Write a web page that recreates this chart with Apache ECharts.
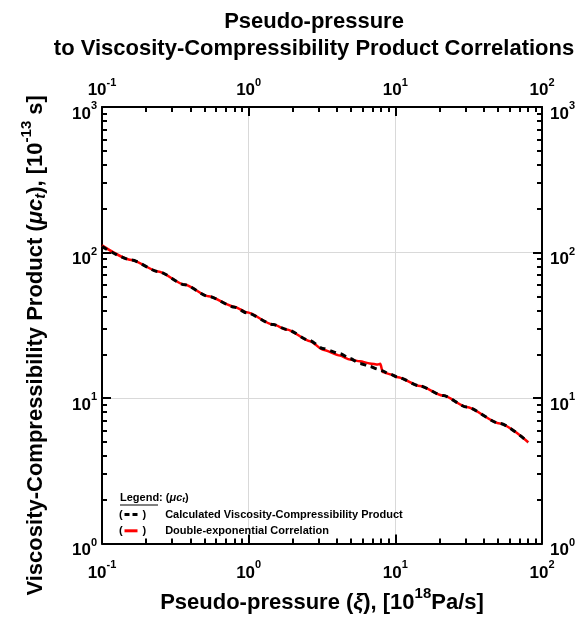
<!DOCTYPE html>
<html><head><meta charset="utf-8">
<script src="https://cdn.jsdelivr.net/npm/echarts@6/dist/echarts.min.js"></script>
<style>html,body{margin:0;padding:0;background:#fff}#c{width:582px;height:619px}</style>
</head><body><div id="c"></div>
<script>
// ---- data ----
const xCalc = [0.1, 0.159, 0.242, 0.368, 0.53, 0.806, 0.969, 1.47, 1.82, 2.62, 3.21, 4.19, 4.9, 5.74, 6.71, 7.61, 8.1, 9.18, 10.4, 14.7, 21.2, 30.6, 51.6, 80.5];
const yCalc = [110, 88.7, 74.0, 60.0, 50.0, 42.1, 38.5, 32.0, 29.6, 24.8, 21.9, 20.2, 18.7, 17.3, 16.5, 15.8, 15.4, 14.6, 13.9, 12.1, 10.4, 8.69, 6.69, 4.97];
const xCorr = [0.1, 0.159, 0.242, 0.368, 0.53, 0.806, 0.969, 1.47, 1.82, 2.62, 3.21, 4.19, 4.9, 5.74, 6.71, 7.61, 7.9, 8.2, 9.18, 10.4, 14.7, 21.2, 30.6, 51.6, 80.5];
const yCorr = [112, 89.0, 74.0, 60.0, 50.0, 42.3, 38.8, 32.0, 29.6, 24.6, 21.5, 19.6, 18.4, 17.9, 17.3, 17.0, 17.2, 15.1, 14.6, 13.9, 12.1, 10.4, 8.69, 6.69, 4.97];
const xMajor = [0.1, 1, 10, 100];
const yMajor = [1, 10, 100, 1000];
const minorMult = [2, 3, 4, 5, 6, 7, 8, 9];
const seriesNames = ['Calculated Viscosity-Compressibility Product', 'Double-exponential Correlation'];

function minors(major) {
  const out = [];
  for (let i = 0; i < major.length - 1; i++) minorMult.forEach(m => out.push(+(major[i] * m).toPrecision(6)));
  return out;
}
const xMinor = minors(xMajor);
const yMinor = minors(yMajor);

const F = 'Arial, "Liberation Sans", sans-serif';
const supFmt = v => '{b|10}{s|' + Math.round(Math.log10(v)) + '}';
const labRich = {
  b: {fontFamily: F, fontSize: 17, fontWeight: 'bold', color: '#000'},
  s: {fontFamily: F, fontSize: 11, fontWeight: 'bold', color: '#000', padding: [0, 0, 16, 0]}
};
const nameRich = {
  n: {fontFamily: F, fontSize: 22, fontWeight: 'bold', color: '#000'},
  i: {fontFamily: F, fontSize: 22, fontWeight: 'bold', fontStyle: 'italic', color: '#000'},
  sub: {fontFamily: F, fontSize: 15, fontWeight: 'bold', fontStyle: 'italic', color: '#000', padding: [10, 0, 0, 0]},
  sup: {fontFamily: F, fontSize: 15, fontWeight: 'bold', color: '#000', padding: [0, 0, 18, 0]}
};

function majorAxis(pos, range, ticks, extra) {
  return Object.assign({
    type: 'log', logBase: 10, min: range[0], max: range[1], position: pos,
    axisLine: {show: true, onZero: false, lineStyle: {color: '#000', width: 2}},
    axisTick: {show: true, inside: true, length: 9, customValues: ticks, lineStyle: {color: '#000', width: 2}},
    axisLabel: {show: true, customValues: ticks, formatter: supFmt, rich: labRich},
    splitLine: {show: false},
    minorTick: {show: false}
  }, extra);
}
function minorAxis(pos, range, ticks) {
  return {
    type: 'log', logBase: 10, min: range[0], max: range[1], position: pos,
    axisLine: {show: false},
    axisTick: {show: true, inside: true, length: 5, customValues: ticks, lineStyle: {color: '#000', width: 2}},
    axisLabel: {show: false},
    splitLine: {show: false}
  };
}

const chart = echarts.init(document.getElementById('c'), null, {renderer: 'canvas'});
chart.setOption({
  backgroundColor: '#fff',
  animation: false,
  title: {
    text: 'Pseudo-pressure\nto Viscosity-Compressibility Product Correlations',
    left: 314, top: 8, padding: 0, textAlign: 'center',
    textStyle: {fontFamily: F, fontSize: 22, fontWeight: 'bold', color: '#000', lineHeight: 27}
  },
  grid: {left: 102, right: 40, top: 107, bottom: 71, containLabel: false},
  xAxis: [
    majorAxis('bottom', [0.1, 100], xMajor, {
      axisLabel: {show: true, customValues: xMajor, formatter: supFmt, rich: labRich, margin: 16},
      splitLine: {show: true, lineStyle: {color: '#d9d9d9', width: 1}},
      name: '{n|Pseudo-pressure (}{i|ξ}{n|), [10}{sup|18}{n|Pa/s]}',
      nameLocation: 'middle', nameGap: 38,
      nameTextStyle: {rich: nameRich}
    }),
    minorAxis('bottom', [0.1, 100], xMinor),
    majorAxis('top', [0.1, 100], xMajor, {
      axisLabel: {show: true, customValues: xMajor, formatter: supFmt, rich: labRich, margin: 3}
    }),
    minorAxis('top', [0.1, 100], xMinor)
  ],
  yAxis: [
    majorAxis('left', [1, 1000], yMajor, {
      axisLabel: {show: true, customValues: yMajor, formatter: supFmt, rich: labRich, margin: 5, padding: [14, 0, 0, 0]},
      splitLine: {show: true, lineStyle: {color: '#d9d9d9', width: 1}},
      name: '{n|Viscosity-Compressibility Product (}{i|μc}{sub|t}{n|), [10}{sup|-13}{n| s]}',
      nameLocation: 'middle', nameGap: 50,
      nameTextStyle: {rich: nameRich, padding: [0, 40, 0, 0]}
    }),
    minorAxis('left', [1, 1000], yMinor),
    majorAxis('right', [1, 1000], yMajor, {
      axisLabel: {show: true, customValues: yMajor, formatter: supFmt, rich: labRich, margin: 8, padding: [14, 0, 0, 0]}
    }),
    minorAxis('right', [1, 1000], yMinor)
  ],
  legend: {
    orient: 'vertical', left: 123, top: 509, padding: 0,
    itemWidth: 13, itemHeight: 14, itemGap: 5,
    itemStyle: {color: 'rgba(0,0,0,0)', borderWidth: 0, opacity: 0},
    data: [
      {name: seriesNames[0], lineStyle: {type: [5, 3], width: 3, color: '#000'}},
      {name: seriesNames[1], lineStyle: {width: 3, color: '#ff0000'}}
    ],
    formatter: n => '{p|)}{t|' + n + '}',
    textStyle: {
      fontFamily: F, fontSize: 11, fontWeight: 'bold', color: '#000',
      rich: {
        p: {fontFamily: F, fontSize: 11, fontWeight: 'bold', color: '#000'},
        t: {fontFamily: F, fontSize: 11, fontWeight: 'bold', color: '#000', padding: [0, 0, 0, 19]}
      }
    }
  },
  graphic: [
    {type: 'text', left: 120, top: 492, style: {
      text: '{u|Legend}: ({i|μc}{s|t})',
      rich: {
        u: {fontFamily: F, fontSize: 11, fontWeight: 'bold', fill: '#000'},
        i: {fontFamily: F, fontSize: 11, fontWeight: 'bold', fontStyle: 'italic', fill: '#000'},
        s: {fontFamily: F, fontSize: 8, fontWeight: 'bold', fontStyle: 'italic', fill: '#000', padding: [5, 0, 0, 0]}
      },
      font: 'bold 11px ' + F, fill: '#000'
    }},
    {type: 'line', shape: {x1: 120, y1: 505, x2: 158, y2: 505}, style: {stroke: '#000', lineWidth: 1}},
    {type: 'text', left: 119, top: 509, style: {text: '(', font: 'bold 11px ' + F, fill: '#000'}},
    {type: 'text', left: 119, top: 525, style: {text: '(', font: 'bold 11px ' + F, fill: '#000'}}
  ],
  series: [
    {
      name: seriesNames[1], type: 'line', xAxisIndex: 0, yAxisIndex: 0,
      data: xCorr.map((x, i) => [x, yCorr[i]]),
      showSymbol: false, symbol: 'none', smooth: 0.25, smoothMonotone: 'x',
      lineStyle: {color: '#ff0000', width: 2.5}, itemStyle: {color: '#ff0000'}, z: 2
    },
    {
      name: seriesNames[0], type: 'line', xAxisIndex: 0, yAxisIndex: 0,
      data: xCalc.map((x, i) => [x, yCalc[i]]),
      showSymbol: false, symbol: 'none', smooth: 0.25, smoothMonotone: 'x',
      lineStyle: {color: '#000', width: 3, type: [6, 5]}, itemStyle: {color: '#000'}, z: 3
    }
  ]
});
</script></body></html>
